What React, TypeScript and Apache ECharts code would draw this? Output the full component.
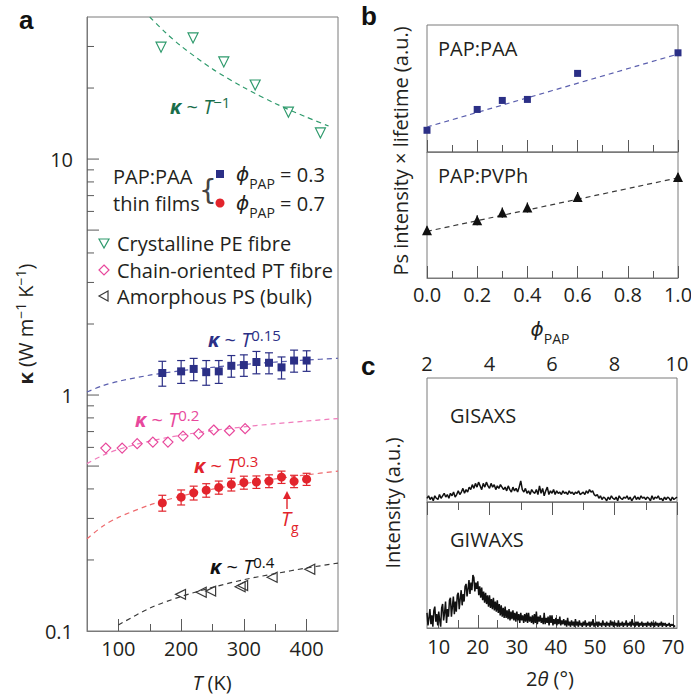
import React, { useEffect, useRef } from 'react';
import * as echarts from 'echarts';

const FONT = "'Open Sans', sans-serif";
const GREEK = "'DejaVu Sans', sans-serif";
const INK = '#231f20';
const FRAME = '#7a7a7a';
const TICK = '#5a5a5a';
const NAVY = '#2b2f86';
const NAVY_FIT = '#5b5fae';
const RED = '#e2242c';
const RED_FIT = '#ee6a6e';
const PINK = '#e8489c';
const PINK_FIT = '#f07cbc';
const GREEN = '#2e9a6c';
const GREEN_DARK = '#1a6e4a';
const GREY = '#3a3a3a';

// ---- panel a: thermal conductivity vs temperature ----
const tempPAP = [170, 200, 220, 240, 260, 280, 300, 320, 340, 360, 380, 400];
const kappaPAA03 = [1.24, 1.26, 1.29, 1.25, 1.26, 1.33, 1.34, 1.38, 1.37, 1.31, 1.4, 1.4];
const errPAA03 = [0.15, 0.14, 0.14, 0.15, 0.14, 0.14, 0.14, 0.15, 0.14, 0.14, 0.15, 0.14];
const kappaPAA07 = [0.349, 0.369, 0.385, 0.395, 0.406, 0.418, 0.426, 0.428, 0.432, 0.449, 0.431, 0.44];
const errPAA07 = [0.027, 0.027, 0.026, 0.026, 0.026, 0.026, 0.027, 0.026, 0.027, 0.027, 0.026, 0.026];

const tempPE = [168, 219, 268, 318, 371, 422];
const kappaPE = [29.8, 32.6, 25.8, 20.6, 15.8, 12.9];
const tempPT = [80, 106, 130, 155, 179, 203, 228, 252, 277, 302];
const kappaPT = [0.596, 0.596, 0.622, 0.632, 0.632, 0.67, 0.685, 0.711, 0.706, 0.72];
const tempPS = [199, 232, 247, 294, 298, 345, 405];
const kappaPS = [0.143, 0.146, 0.1476, 0.154, 0.156, 0.169, 0.1826];

// power-law guide curves, tabulated along T
const fitTemp = [50, 75, 100, 150, 200, 250, 300, 350, 400, 450];
const fitPAA03 = [1.03, 1.095, 1.143, 1.214, 1.268, 1.311, 1.347, 1.379, 1.407, 1.432];
const fitPT = [0.512, 0.555, 0.588, 0.638, 0.676, 0.707, 0.733, 0.756, 0.776, 0.795];
const fitPAA07 = [0.246, 0.278, 0.303, 0.342, 0.373, 0.399, 0.421, 0.441, 0.459, 0.476];
const fitTempPS = [100, 150, 200, 250, 300, 350, 400, 450];
const fitPS = [0.106, 0.125, 0.14, 0.153, 0.165, 0.175, 0.185, 0.194];
const fitTempPE = [150, 175, 200, 250, 300, 350, 400, 435];
const fitPE = [40, 34.4, 30.1, 24.1, 20.1, 17.2, 15.05, 13.8];

const tempMajorTicks = [100, 200, 300, 400];
const tempMinorTicks = [150, 250, 350];
const kappaTicks = [0.2, 0.3, 0.4, 0.5, 0.6, 0.7, 0.8, 0.9, 1, 2, 3, 4, 5, 6, 7, 8, 9, 10, 20, 30];
const kappaLabels: Record<string, string> = { '-1': '0.1', '0': '1', '1': '10' };

// ---- panel b: Ps intensity x lifetime vs PAP fraction ----
const phiPAP = [0, 0.2, 0.3, 0.4, 0.6, 1.0];
const psPAA = [0.171, 0.335, 0.406, 0.414, 0.619, 0.781];
const psPVPh = [0.379, 0.458, 0.519, 0.559, 0.643, 0.802];
const errPVPh = [0.03, 0.04, 0.04, 0.04, 0.04, 0.03];
const fitPhi = [0, 1];
const fitPsPAA = [0.197, 0.771];
const fitPsPVPh = [0.37, 0.795];

// ---- panel c: grazing-incidence scattering ----
const gisaxsStart = 2;
const gisaxsStep = 0.05;
const gisaxs = [
  0.03, 0.05, 0.02, 0.04, 0.01, 0.05, 0.03, 0.02, 0.06, 0.03,
  0.05, 0.07, 0.04, 0.06, 0.03, 0.07, 0.05, 0.08, 0.04, 0.06,
  0.09, 0.06, 0.08, 0.11, 0.07, 0.1, 0.08, 0.12, 0.1, 0.14,
  0.11, 0.15, 0.12, 0.16, 0.13, 0.1, 0.15, 0.12, 0.16, 0.13,
  0.11, 0.15, 0.12, 0.14, 0.1, 0.13, 0.11, 0.14, 0.12, 0.1,
  0.12, 0.09, 0.13, 0.1, 0.08, 0.12, 0.09, 0.11, 0.08, 0.12,
  0.17, 0.1, 0.08, 0.11, 0.07, 0.09, 0.06, 0.1, 0.08, 0.07,
  0.1, 0.06, 0.13, 0.07, 0.11, 0.05, 0.09, 0.12, 0.06, 0.09,
  0.07, 0.1, 0.06, 0.09, 0.07, 0.08, 0.06, 0.09, 0.07, 0.08,
  0.06, 0.09, 0.07, 0.08, 0.06, 0.08, 0.07, 0.09, 0.06, 0.07,
  0.08, 0.06, 0.09, 0.07, 0.1, 0.08, 0.09, 0.06, 0.05, 0.06,
  0.03, 0.05, 0.02, 0.04, 0.03, 0.01, 0.04, 0.02, 0.05, 0.03,
  0.02, 0.04, 0.01, 0.05, 0.03, 0.02, 0.04, 0.03, 0.05, 0.02,
  0.04, 0.01, 0.03, 0.05, 0.02, 0.04, 0.02, 0.05, 0.03, 0.04,
  0.02, 0.04, 0.03, 0.01, 0.05, 0.02, 0.04, 0.03, 0.05, 0.02,
  0.03, 0.01, 0.04, 0.02, 0.04, 0.03, 0.01, 0.04, 0.02, 0.03,
  0.04,
];
const giwaxsStart = 7;
const giwaxsStep = 0.25;
const giwaxs = [
  0.12, 0.02, 0.08, 0.15, 0.03, 0.1, 0.01, 0.14,
  0.17, 0.05, 0.11, 0.02, 0.13, 0.06, 0.01, 0.16,
  0.19, 0.06, 0.12, 0.21, 0.04, 0.15, 0.09, 0.22,
  0.24, 0.09, 0.17, 0.25, 0.11, 0.21, 0.13, 0.26,
  0.28, 0.15, 0.23, 0.3, 0.18, 0.27, 0.21, 0.33,
  0.35, 0.25, 0.31, 0.38, 0.27, 0.36, 0.3, 0.42,
  0.4, 0.29, 0.36, 0.31, 0.37, 0.26, 0.33, 0.24,
  0.32, 0.22, 0.29, 0.2, 0.28, 0.19, 0.26, 0.17,
  0.26, 0.16, 0.23, 0.15, 0.24, 0.14, 0.21, 0.13,
  0.22, 0.12, 0.19, 0.1, 0.18, 0.09, 0.16, 0.08,
  0.17, 0.08, 0.14, 0.07, 0.15, 0.06, 0.13, 0.07,
  0.14, 0.06, 0.12, 0.05, 0.13, 0.06, 0.11, 0.04,
  0.12, 0.06, 0.1, 0.04, 0.11, 0.05, 0.12, 0.04,
  0.12, 0.05, 0.09, 0.04, 0.1, 0.03, 0.11, 0.04,
  0.13, 0.03, 0.09, 0.05, 0.1, 0.04, 0.08, 0.03,
  0.12, 0.03, 0.08, 0.04, 0.09, 0.02, 0.1, 0.04,
  0.1, 0.02, 0.07, 0.03, 0.08, 0.02, 0.07, 0.03,
  0.09, 0.02, 0.06, 0.03, 0.07, 0.02, 0.06, 0.01,
  0.08, 0.02, 0.05, 0.01, 0.06, 0.02, 0.05, 0.01,
  0.07, 0.02, 0.05, 0.01, 0.06, 0.02, 0.04, 0.01,
  0.05, 0.02, 0.06, 0.01, 0.04, 0.02, 0.05, 0.01,
  0.05, 0.02, 0.07, 0.01, 0.04, 0.02, 0.05, 0.01,
  0.05, 0.02, 0.04, 0.01, 0.06, 0.02, 0.04, 0.01,
  0.05, 0.02, 0.04, 0.01, 0.06, 0.02, 0.05, 0.01,
  0.05, 0.02, 0.04, 0.01, 0.06, 0.01, 0.04, 0.02,
  0.05, 0.01, 0.04, 0.02, 0.06, 0.01, 0.04, 0.02,
  0.05, 0.01, 0.07, 0.02, 0.04, 0.01, 0.05, 0.02,
  0.05, 0.01, 0.04, 0.02, 0.05, 0.01, 0.04, 0.02,
  0.04, 0.01, 0.05, 0.02, 0.04, 0.01, 0.05, 0.02,
  0.04, 0.01, 0.05, 0.02, 0.04, 0.01, 0.04, 0.02,
  0.05, 0.01, 0.04, 0.02, 0.04, 0.01, 0.03, 0.02,
  0.04, 0.01, 0.03, 0.02, 0.03, 0.01, 0.02,
];
const twoThetaMajor = [10, 20, 30, 40, 50, 60, 70];
const twoThetaMinor = [15, 25, 35, 45, 55, 65];

const pairs = (xs: number[], ys: number[]) => xs.map((x, i) => [x, ys[i]]);

const axisText = { fontFamily: FONT, fontSize: 20, color: INK };

function tok(fill: string, size: number, lineHeight: number, align: string, extra: any = {}) {
  return { fontFamily: FONT, fontSize: size, lineHeight, verticalAlign: align, fill, ...extra };
}

function label(x: number, y: number, text: string, extra: any = {}) {
  return {
    type: 'text', x, y, silent: true,
    style: { text, fontFamily: FONT, fontSize: 20, fill: INK, align: 'left', verticalAlign: 'middle', ...extra },
  };
}

// rich-text pieces: main glyphs bottom-aligned, exponent top-aligned in a 22px line
const supRich = (fill: string) => ({
  k: tok(fill, 20, 20, 'bottom', { fontWeight: 'bold', fontStyle: 'italic' }),
  n: tok(fill, 20, 20, 'bottom'),
  i: tok(fill, 20, 20, 'bottom', { fontStyle: 'italic' }),
  s: tok(fill, 15, 22, 'top'),
});

// "κ ~ T^n"
function powerLaw(x: number, yc: number, exponent: string, fill: string) {
  return {
    type: 'text', x, y: yc - 1, silent: true,
    style: {
      text: `{k|κ}{n| ~ }{i|T}{s|${exponent}}`,
      align: 'left', verticalAlign: 'middle', fill,
      rich: supRich(fill),
    },
  };
}

// symbol with a lowered subscript, e.g. ϕ_PAP = 0.3
function subscripted(x: number, yc: number, main: string, sub: string, rest: string, align = 'left', fill = INK, mainFont = FONT) {
  return {
    type: 'text', x, y: yc + 3, silent: true,
    style: {
      text: `{p|${main}}{b|${sub}}` + (rest ? `{n|${rest}}` : ''),
      align, verticalAlign: 'middle', fill,
      rich: {
        p: tok(fill, 20, 20, 'top', { fontStyle: 'italic', fontFamily: mainFont }),
        b: tok(fill, 14, 26, 'bottom'),
        n: tok(fill, 20, 20, 'top'),
      },
    },
  };
}

function errorBars(xi: number, yi: number, xs: number[], ys: number[], es: number[], color: string, cap: number) {
  return {
    type: 'custom', xAxisIndex: xi, yAxisIndex: yi, z: 3, silent: true,
    encode: { x: 0, y: [1, 2] },
    data: xs.map((x, i) => [x, ys[i] - es[i], ys[i] + es[i]]),
    renderItem: (_p: any, api: any) => {
      const lo = api.coord([api.value(0), api.value(1)]);
      const hi = api.coord([api.value(0), api.value(2)]);
      const style = { stroke: color, lineWidth: 1.2 };
      const children: any[] = [{ type: 'line', shape: { x1: lo[0], y1: lo[1], x2: hi[0], y2: hi[1] }, style }];
      if (cap > 0) {
        children.push({ type: 'line', shape: { x1: lo[0] - cap, y1: lo[1], x2: lo[0] + cap, y2: lo[1] }, style });
        children.push({ type: 'line', shape: { x1: hi[0] - cap, y1: hi[1], x2: hi[0] + cap, y2: hi[1] }, style });
      }
      return { type: 'group', children };
    },
  };
}

function guide(xi: number, yi: number, xs: number[], ys: number[], color: string) {
  return {
    type: 'line', xAxisIndex: xi, yAxisIndex: yi, z: 2, silent: true,
    data: pairs(xs, ys), symbol: 'none', smooth: 0.3,
    lineStyle: { color, width: 1.2, type: [5, 4] },
  };
}

function marks(xi: number, yi: number, xs: number[], ys: number[], symbol: string, size: number, fill: string, border: string, rotate = 0) {
  return {
    type: 'scatter', xAxisIndex: xi, yAxisIndex: yi, z: 4, silent: true,
    data: pairs(xs, ys), symbol, symbolSize: size, symbolRotate: rotate,
    itemStyle: { color: fill, borderColor: border, borderWidth: fill === 'transparent' ? 1.2 : 0, opacity: 1 },
  };
}

function trace(xi: number, yi: number, start: number, step: number, ys: number[]) {
  return {
    type: 'line', xAxisIndex: xi, yAxisIndex: yi, z: 2, silent: true,
    data: ys.map((v, i) => [start + step * i, v]), symbol: 'none',
    lineStyle: { color: '#111', width: 1.5 },
  };
}

const gridBase = { show: true, borderColor: FRAME, borderWidth: 1, backgroundColor: 'transparent', containLabel: false, outerBoundsMode: 'none' };
const noSplit = { splitLine: { show: false } };
const frameLine = { show: true, lineStyle: { color: FRAME, width: 1 } };
const tickStyle = { color: TICK, width: 1 };

function buildOption(): any {
  const T_MIN = 50;
  return {
    animation: false,
    backgroundColor: '#fff',
    grid: [
      { left: 87, top: 17, width: 251, height: 614 },
      { left: 427, top: 25, width: 251, height: 127 },
      { left: 427, top: 152, width: 251, height: 126 },
      { left: 427, top: 378, width: 250, height: 124 },
      { left: 427, top: 502, width: 250, height: 126 },
    ].map((g) => ({ ...gridBase, ...g })),
    xAxis: [
      {
        gridIndex: 0, type: 'value', position: 'bottom', min: T_MIN, max: 450, ...noSplit,
        axisLine: frameLine,
        axisTick: { show: true, inside: true, length: 12, customValues: tempMajorTicks, lineStyle: tickStyle },
        axisLabel: { ...axisText, margin: 7, customValues: tempMajorTicks },
      },
      {
        gridIndex: 0, type: 'value', position: 'bottom', min: T_MIN, max: 450, ...noSplit,
        axisLine: { show: false },
        axisTick: { show: true, inside: true, length: 7, customValues: tempMinorTicks, lineStyle: tickStyle },
        axisLabel: { show: false },
      },
      {
        gridIndex: 1, type: 'value', position: 'bottom', min: 0, max: 1, interval: 0.2, ...noSplit,
        axisLine: frameLine,
        axisTick: { show: true, inside: true, length: 12, lineStyle: tickStyle },
        minorTick: { show: true, splitNumber: 2, length: 7, lineStyle: tickStyle },
        axisLabel: { show: false },
      },
      {
        gridIndex: 2, type: 'value', position: 'bottom', min: 0, max: 1, interval: 0.2, ...noSplit,
        axisLine: frameLine,
        axisTick: { show: true, inside: true, length: 12, lineStyle: tickStyle },
        minorTick: { show: true, splitNumber: 2, length: 7, lineStyle: tickStyle },
        axisLabel: { ...axisText, margin: 6, formatter: (v: number) => v.toFixed(1) },
      },
      {
        gridIndex: 3, type: 'value', position: 'top', min: 2, max: 10, interval: 2, ...noSplit,
        axisLine: frameLine,
        axisTick: { show: true, inside: true, length: 13, lineStyle: tickStyle },
        minorTick: { show: true, splitNumber: 2, length: 8, lineStyle: tickStyle },
        axisLabel: { ...axisText, margin: 5 },
      },
      {
        gridIndex: 4, type: 'value', position: 'bottom', min: 7, max: 71, ...noSplit,
        axisLine: frameLine,
        axisTick: { show: true, inside: true, length: 13, customValues: twoThetaMajor, lineStyle: tickStyle },
        axisLabel: { ...axisText, margin: 8, customValues: twoThetaMajor },
      },
      {
        gridIndex: 4, type: 'value', position: 'bottom', min: 7, max: 71, ...noSplit,
        axisLine: { show: false },
        axisTick: { show: true, inside: true, length: 8, customValues: twoThetaMinor, lineStyle: tickStyle },
        axisLabel: { show: false },
      },
    ],
    yAxis: [
      {
        gridIndex: 0, type: 'log', logBase: 10, min: 0.1, max: 40, ...noSplit,
        axisLine: frameLine,
        axisTick: { show: false },
        minorTick: { show: false },
        axisLabel: {
          ...axisText, margin: 14,
          formatter: (v: number) => {
            const e = Math.log10(v);
            const r = Math.round(e);
            return Math.abs(e - r) < 1e-6 ? kappaLabels[String(r)] || '' : '';
          },
        },
      },
      { gridIndex: 1, type: 'value', min: 0, max: 1, show: false, ...noSplit },
      { gridIndex: 2, type: 'value', min: 0, max: 1, show: false, ...noSplit },
      { gridIndex: 3, type: 'value', min: 0, max: 1, show: false, ...noSplit },
      { gridIndex: 4, type: 'value', min: 0, max: 1, show: false, ...noSplit },
    ],
    series: [
      // panel a guides
      guide(0, 0, fitTempPE, fitPE, GREEN),
      guide(0, 0, fitTemp, fitPAA03, NAVY_FIT),
      guide(0, 0, fitTemp, fitPT, PINK_FIT),
      guide(0, 0, fitTemp, fitPAA07, RED_FIT),
      guide(0, 0, fitTempPS, fitPS, GREY),
      // panel a data
      errorBars(0, 0, tempPAP, kappaPAA03, errPAA03, NAVY, 4),
      errorBars(0, 0, tempPAP, kappaPAA07, errPAA07, RED, 4),
      marks(0, 0, tempPE, kappaPE, 'triangle', 10, 'transparent', GREEN, 180),
      marks(0, 0, tempPT, kappaPT, 'diamond', 10, 'transparent', PINK),
      marks(0, 0, tempPS, kappaPS, 'triangle', 10, 'transparent', GREY, 90),
      marks(0, 0, tempPAP, kappaPAA03, 'rect', 8, NAVY, NAVY),
      marks(0, 0, tempPAP, kappaPAA07, 'circle', 9, RED, RED),
      // panel a log ticks along the left edge
      {
        type: 'custom', xAxisIndex: 0, yAxisIndex: 0, z: 5, silent: true,
        data: kappaTicks.map((v) => [T_MIN, v]),
        renderItem: (_p: any, api: any) => {
          const v = api.value(1);
          const p = api.coord([api.value(0), v]);
          const lead = Math.round(v / Math.pow(10, Math.floor(Math.log10(v) + 1e-9)));
          const len = lead === 1 || lead === 5 ? 12 : 7;
          return { type: 'line', shape: { x1: p[0], y1: p[1], x2: p[0] + len, y2: p[1] }, style: { stroke: TICK, lineWidth: 1 } };
        },
      },
      // panel b
      guide(2, 1, fitPhi, fitPsPAA, NAVY_FIT),
      marks(2, 1, phiPAP, psPAA, 'rect', 7, NAVY, NAVY),
      guide(3, 2, fitPhi, fitPsPVPh, GREY),
      errorBars(3, 2, phiPAP, psPVPh, errPVPh, '#111', 0),
      marks(3, 2, phiPAP, psPVPh, 'triangle', 10, '#111', '#111'),
      // panel c
      trace(4, 3, gisaxsStart, gisaxsStep, gisaxs),
      trace(5, 4, giwaxsStart, giwaxsStep, giwaxs),
    ],
    graphic: {
      elements: [
        // panel letters
        label(19, 20, 'a', { fontFamily: 'Liberation Sans', fontWeight: 'bold', fontSize: 26, fill: '#111' }),
        label(361, 16, 'b', { fontFamily: 'Liberation Sans', fontWeight: 'bold', fontSize: 26, fill: '#111' }),
        label(361, 366, 'c', { fontFamily: 'Liberation Sans', fontWeight: 'bold', fontSize: 26, fill: '#111' }),

        // panel a legend
        label(113, 176, 'PAP:PAA'),
        label(113, 203, 'thin films'),
        label(199, 190, '{', { fontFamily: 'DejaVu Sans', fontSize: 28, fill: '#444' }),
        { type: 'rect', silent: true, shape: { x: 216, y: 170, width: 8, height: 8 }, style: { fill: NAVY } },
        subscripted(236, 174, 'ϕ', 'PAP', ' = 0.3', 'left', INK, GREEK),
        { type: 'circle', silent: true, shape: { cx: 220, cy: 203, r: 4.5 }, style: { fill: RED } },
        subscripted(236, 203, 'ϕ', 'PAP', ' = 0.7', 'left', INK, GREEK),
        { type: 'polygon', silent: true, shape: { points: [[99, 239], [109, 239], [104, 248]] }, style: { fill: 'none', stroke: GREEN, lineWidth: 1.2 } },
        label(117, 243, 'Crystalline PE fibre'),
        { type: 'polygon', silent: true, shape: { points: [[104, 265], [109, 270], [104, 275], [99, 270]] }, style: { fill: 'none', stroke: PINK, lineWidth: 1.2 } },
        label(117, 270, 'Chain-oriented PT fibre'),
        { type: 'polygon', silent: true, shape: { points: [[99, 296], [108, 291], [108, 301]] }, style: { fill: 'none', stroke: GREY, lineWidth: 1.2 } },
        label(117, 296, 'Amorphous PS (bulk)'),

        // power-law annotations
        powerLaw(170, 106, '−1', GREEN_DARK),
        powerLaw(208, 339, '0.15', NAVY),
        powerLaw(135, 419, '0.2', PINK),
        powerLaw(194, 465, '0.3', RED),
        powerLaw(210, 566, '0.4', '#111'),

        // glass transition marker
        { type: 'line', silent: true, shape: { x1: 287, y1: 509, x2: 287, y2: 497 }, style: { stroke: RED, lineWidth: 1.4 } },
        { type: 'polygon', silent: true, shape: { points: [[283, 499], [291, 499], [287, 491]] }, style: { fill: RED } },
        subscripted(281, 518, 'T', 'g', '', 'left', RED),

        // axis titles
        {
          type: 'text', x: 24, y: 324, rotation: Math.PI / 2, silent: true,
          style: {
            text: '{k|κ}{n| (W m}{s|−1}{n| K}{s|−1}{n|)}',
            align: 'center', verticalAlign: 'middle', fill: INK,
            rich: { ...supRich(INK), k: tok(INK, 20, 20, 'bottom', { fontWeight: 'bold' }), s: tok(INK, 14, 22, 'top') },
          },
        },
        {
          type: 'text', x: 212, y: 682, silent: true,
          style: {
            text: '{i|T}{n| (K)}', align: 'center', verticalAlign: 'middle',
            rich: { i: tok(INK, 20, 24, 'middle', { fontStyle: 'italic' }), n: tok(INK, 20, 24, 'middle') },
          },
        },
        { ...label(400, 151, 'Ps intensity × lifetime (a.u.)', { align: 'center' }), rotation: Math.PI / 2 },
        subscripted(550, 329, 'ϕ', 'PAP', '', 'center', INK, GREEK),
        label(438, 48, 'PAP:PAA'),
        label(438, 175, 'PAP:PVPh'),
        label(450, 415, 'GISAXS'),
        label(450, 539, 'GIWAXS'),
        { ...label(392, 503, 'Intensity (a.u.)', { align: 'center' }), rotation: Math.PI / 2 },
        {
          type: 'text', x: 550, y: 678, silent: true,
          style: {
            text: '{n|2}{i|θ}{n| (°)}', align: 'center', verticalAlign: 'middle',
            rich: { i: tok(INK, 20, 24, 'middle', { fontStyle: 'italic' }), n: tok(INK, 20, 24, 'middle') },
          },
        },
      ],
    },
  };
}

export default function App() {
  const ref = useRef<HTMLDivElement>(null);
  useEffect(() => {
    const chart = echarts.init(ref.current as HTMLDivElement, null, { renderer: 'svg' });
    chart.setOption(buildOption());
    return () => chart.dispose();
  }, []);
  return (
    <div
      ref={ref}
      style={{ position: 'fixed', left: 0, top: 0, width: 691, height: 694, background: '#fff' }}
    />
  );
}
